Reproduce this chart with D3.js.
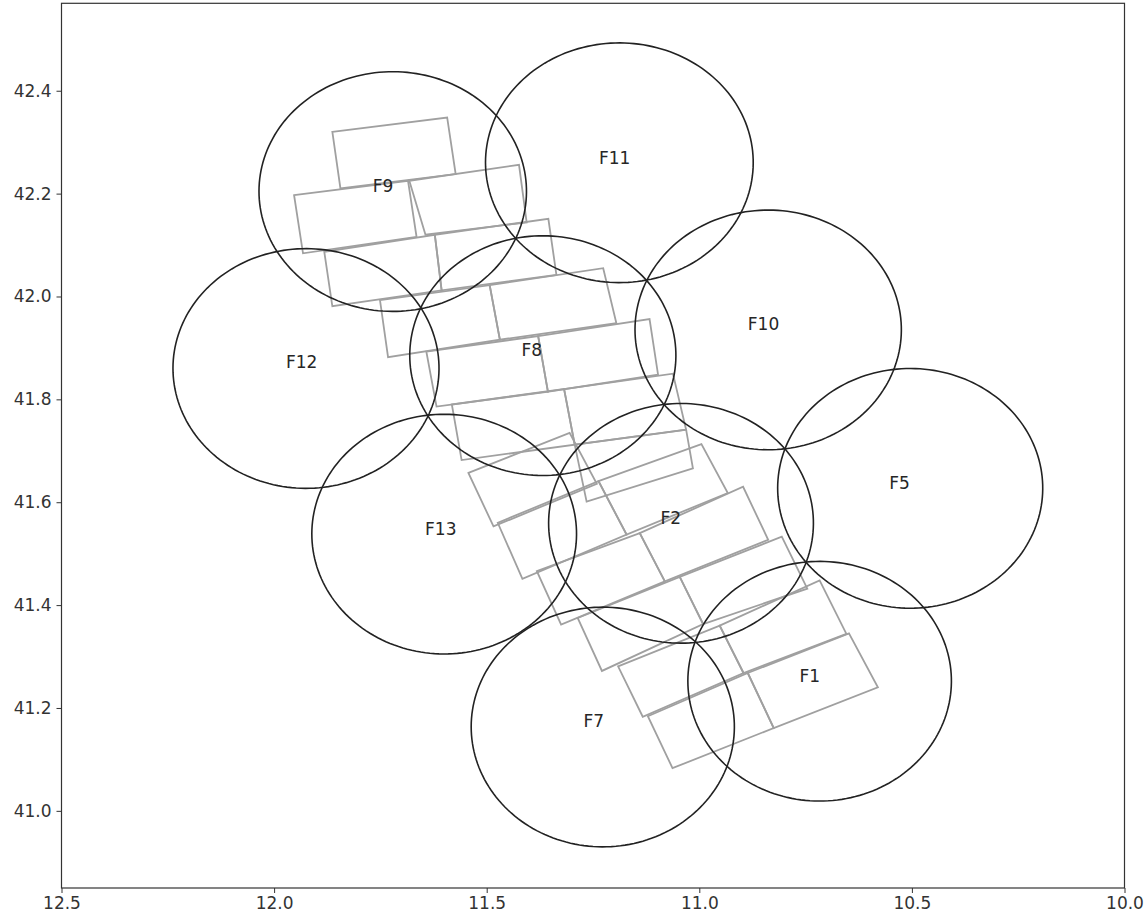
<!DOCTYPE html>
<html>
<head>
<meta charset="utf-8">
<script src="https://cdn.jsdelivr.net/npm/d3@7"></script>
<style>
  body { margin: 0; background: #fff; }
  text { font-family: "DejaVu Sans", sans-serif; }
</style>
</head>
<body>
<svg id="chart" width="1148" height="918"></svg>
<script>
// ---------------- data ----------------
// field names, circle centres [lon, lat] and label anchors [lon, lat]
var fieldNames = ["F9", "F11", "F10", "F12", "F8", "F5", "F13", "F2", "F1", "F7"];
var fieldCenters = [
  [11.721, 42.204], [11.188, 42.260], [10.838, 41.935], [11.925, 41.860],
  [11.368, 41.885], [10.504, 41.627], [11.600, 41.538], [11.043, 41.559],
  [10.717, 41.252], [11.227, 41.163]
];
var labelPositions = [
  [11.744, 42.215], [11.199, 42.269], [10.849, 41.947], [11.935, 41.873],
  [11.394, 41.896], [10.529, 41.638], [11.608, 41.548], [11.067, 41.570],
  [10.740, 41.262], [11.248, 41.175]
];
var radiusDeg = 0.233; // angular radius of each field circle

// image footprints, four corners [lon, lat]
var footprints = [
  [[11.863, 42.320], [11.593, 42.348], [11.573, 42.238], [11.844, 42.210]],
  [[11.953, 42.197], [11.685, 42.225], [11.665, 42.116], [11.932, 42.084]],
  [[11.682, 42.225], [11.424, 42.256], [11.406, 42.144], [11.644, 42.120]],
  [[11.882, 42.087], [11.622, 42.120], [11.606, 42.012], [11.863, 41.981]],
  [[11.622, 42.120], [11.355, 42.151], [11.336, 42.042], [11.606, 42.012]],
  [[11.751, 41.993], [11.493, 42.022], [11.469, 41.916], [11.732, 41.882]],
  [[11.493, 42.022], [11.226, 42.055], [11.195, 41.948], [11.469, 41.916]],
  [[11.642, 41.893], [11.379, 41.923], [11.356, 41.815], [11.618, 41.786]],
  [[11.379, 41.923], [11.117, 41.956], [11.097, 41.848], [11.356, 41.815]],
  [[11.582, 41.790], [11.318, 41.820], [11.293, 41.712], [11.559, 41.682]],
  [[11.318, 41.820], [11.062, 41.850], [11.031, 41.741], [11.293, 41.712]],
  [[11.293, 41.712], [11.031, 41.741], [11.015, 41.666], [11.265, 41.601]],
  [[11.543, 41.657], [11.305, 41.735], [11.241, 41.636], [11.484, 41.553]],
  [[11.474, 41.560], [11.237, 41.641], [11.171, 41.537], [11.416, 41.451]],
  [[11.237, 41.641], [10.995, 41.713], [10.933, 41.618], [11.171, 41.537]],
  [[11.382, 41.466], [11.140, 41.540], [11.081, 41.446], [11.325, 41.362]],
  [[11.140, 41.540], [10.897, 41.630], [10.838, 41.527], [11.081, 41.446]],
  [[11.286, 41.375], [11.046, 41.455], [10.991, 41.363], [11.229, 41.272]],
  [[11.046, 41.455], [10.806, 41.533], [10.746, 41.432], [10.991, 41.363]],
  [[11.191, 41.281], [10.952, 41.360], [10.896, 41.268], [11.133, 41.183]],
  [[10.952, 41.360], [10.717, 41.448], [10.654, 41.344], [10.896, 41.268]],
  [[11.121, 41.184], [10.886, 41.268], [10.825, 41.161], [11.063, 41.083]],
  [[10.886, 41.268], [10.648, 41.345], [10.580, 41.240], [10.825, 41.161]]
];

var xTicks = [12.5, 12.0, 11.5, 11.0, 10.5, 10.0];
var yTicks = [41.0, 41.2, 41.4, 41.6, 41.8, 42.0, 42.2, 42.4];
var xDomain = [12.5, 10.0];
var yDomain = [40.85, 42.57];

// ---------------- drawing ----------------
var svg = d3.select("#chart");
var plotLeft = 61.5, plotRight = 1124.5, plotTop = 3.3, plotBottom = 888;

var x = d3.scaleLinear().domain(xDomain).range([plotLeft, plotRight]);
var y = d3.scaleLinear().domain(yDomain).range([plotBottom, plotTop]);

var line = d3.line()
  .x(function (d) { return x(d[0]); })
  .y(function (d) { return y(d[1]); });

var plot = svg.append("g");

// footprints (grey)
plot.selectAll("path.fp")
  .data(footprints)
  .enter().append("path")
  .attr("class", "fp")
  .attr("d", function (d) { return line(d) + "Z"; })
  .attr("fill", "none")
  .attr("stroke", "#a0a0a0")
  .attr("stroke-width", 1.8);

// field circles, built as geodesic circles in lon/lat
var circleGen = d3.geoCircle().radius(radiusDeg).precision(2);
plot.selectAll("path.field")
  .data(fieldCenters)
  .enter().append("path")
  .attr("class", "field")
  .attr("d", function (c) {
    var ring = circleGen.center(c)().coordinates[0];
    return line(ring) + "Z";
  })
  .attr("fill", "none")
  .attr("stroke", "#222")
  .attr("stroke-width", 1.6);

// labels
plot.selectAll("text.lab")
  .data(fieldNames)
  .enter().append("text")
  .attr("class", "lab")
  .attr("x", function (d, i) { return x(labelPositions[i][0]); })
  .attr("y", function (d, i) { return y(labelPositions[i][1]); })
  .attr("text-anchor", "middle")
  .attr("dominant-baseline", "central")
  .attr("font-size", 17)
  .attr("fill", "#262626")
  .text(function (d) { return d; });

// axes
var xAxis = d3.axisBottom(x).tickValues(xTicks)
  .tickFormat(d3.format(".1f")).tickSize(5).tickPadding(4);
var gx = svg.append("g").attr("transform", "translate(0," + plotBottom + ")").call(xAxis);

var yAxis = d3.axisLeft(y).tickValues(yTicks)
  .tickFormat(d3.format(".1f")).tickSize(5).tickPadding(5);
var gy = svg.append("g").attr("transform", "translate(" + plotLeft + ",0)").call(yAxis);

[gx, gy].forEach(function (g) {
  g.select(".domain").remove();
  g.selectAll(".tick line").attr("stroke", "#333").attr("stroke-width", 1);
  g.selectAll(".tick text").attr("fill", "#333")
    .style("font-family", "'DejaVu Sans', sans-serif").style("font-size", "17px");
});

// frame
svg.append("rect")
  .attr("x", plotLeft).attr("y", plotTop)
  .attr("width", plotRight - plotLeft).attr("height", plotBottom - plotTop)
  .attr("fill", "none").attr("stroke", "#333").attr("stroke-width", 1.2);
</script>
</body>
</html>
